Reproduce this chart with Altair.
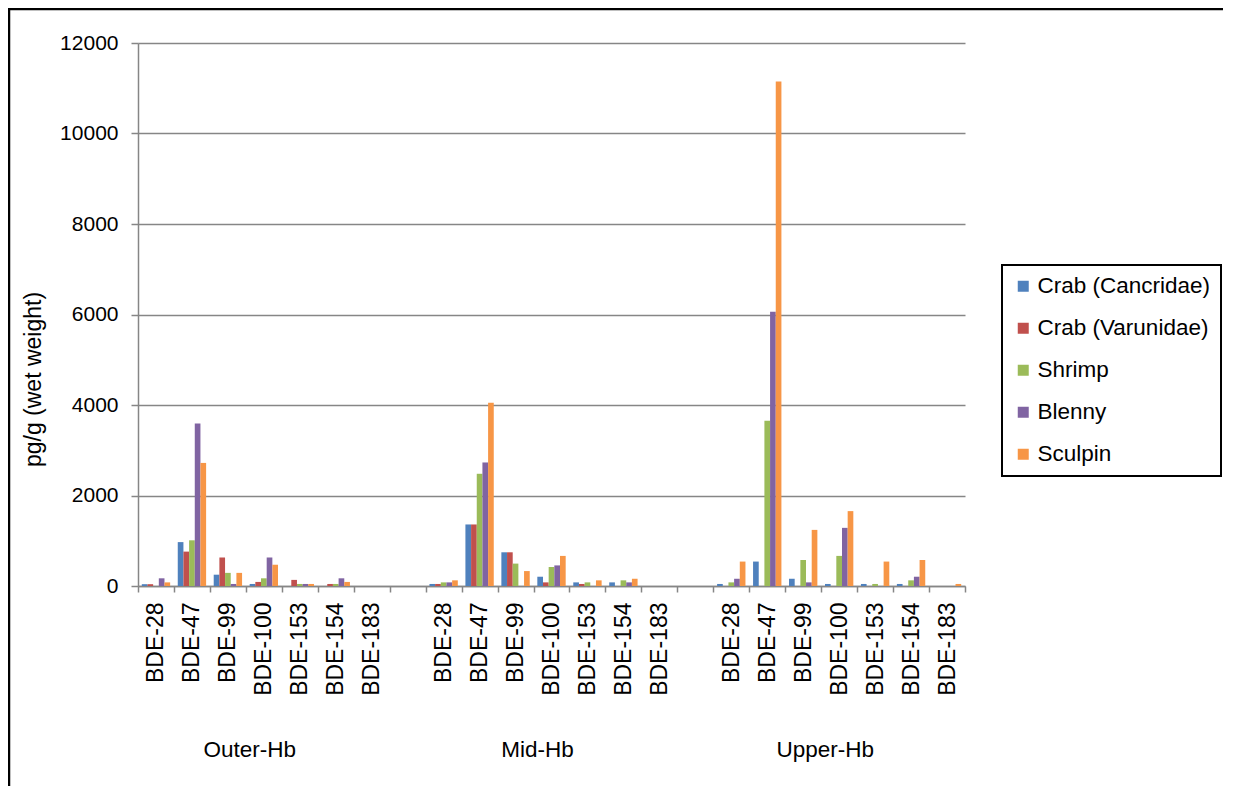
import altair as alt
import pandas as pd

groups = ["Outer-Hb", "Mid-Hb", "Upper-Hb"]
congeners = ["BDE-28", "BDE-47", "BDE-99", "BDE-100", "BDE-153", "BDE-154", "BDE-183"]
species = ["Crab (Cancridae)", "Crab (Varunidae)", "Shrimp", "Blenny", "Sculpin"]
colors = ["#4F81BD", "#C0504D", "#9BBB59", "#8064A2", "#F79646"]

# values per species: Outer-Hb (7 congeners), Mid-Hb (7), Upper-Hb (7)
crab_cancridae = [40, 970, 250, 45, 0, 0, 0,
                  45, 1360, 745, 205, 80, 80, 0,
                  45, 540, 160, 45, 45, 45, 0]
crab_varunidae = [40, 760, 630, 90, 135, 45, 0,
                  45, 1360, 745, 80, 45, 0, 0,
                  0, 0, 0, 0, 0, 0, 0]
shrimp = [0, 1010, 290, 170, 45, 45, 0,
          80, 2480, 495, 420, 80, 125, 0,
          80, 3650, 575, 665, 45, 125, 0]
blenny = [170, 3590, 45, 630, 45, 170, 0,
          80, 2730, 0, 455, 0, 80, 0,
          160, 6060, 80, 1285, 0, 205, 0]
sculpin = [80, 2720, 290, 470, 45, 90, 0,
           125, 4050, 330, 665, 125, 160, 0,
           540, 11150, 1240, 1655, 540, 575, 45]

series = [crab_cancridae, crab_varunidae, shrimp, blenny, sculpin]
y_ticks = [0, 2000, 4000, 6000, 8000, 10000, 12000]

slots = []
for gi, g in enumerate(groups):
    for c in congeners:
        slots.append(f"{g}|{c}")
    if gi < len(groups) - 1:
        slots.append(f"gap{gi}")

rows = []
for sp, vals in zip(species, series):
    k = 0
    for g in groups:
        for c in congeners:
            rows.append({"slot": f"{g}|{c}", "species": sp, "value": vals[k]})
            k += 1
df = pd.DataFrame(rows)

grp_df = pd.DataFrame({"slot": [f"{g}|BDE-100" for g in groups], "label": groups})

FONT = "Liberation Sans, Arial, sans-serif"
GRAY = "#868686"
W, H = 827, 543

x_enc = alt.X(
    "slot:N",
    scale=alt.Scale(domain=slots, paddingInner=0, paddingOuter=0),
    axis=alt.Axis(
        title=None,
        labelExpr="indexof('' + datum.value, '|') >= 0 ? split('' + datum.value, '|')[1] : ''",
        labelAngle=270,
        labelFontSize=23,
        labelColor="#000",
        labelPadding=10,
        labelOverlap=False,
        labelLimit=300,
        tickBand="extent",
        tickSize=6,
        tickColor=GRAY,
        domainColor=GRAY,
        domainWidth=1.5,
        tickWidth=1.5,
        grid=False,
    ),
)

bars = alt.Chart(df).mark_bar().encode(
    x=x_enc,
    xOffset=alt.XOffset("species:N",
                        scale=alt.Scale(domain=species, paddingInner=0, paddingOuter=0.67)),
    y=alt.Y(
        "value:Q",
        stack=False,
        scale=alt.Scale(domain=[0, 12000], nice=False),
        axis=alt.Axis(
            values=y_ticks,
            format=".0f",
            title="pg/g (wet weight)",
            titleFontSize=23,
            titleFontWeight="normal",
            titleColor="#000",
            titleAngle=270,
            titleX=-105,
            titleY=336,
            titleAlign="center",
            titleBaseline="middle",
            labelFontSize=21,
            labelColor="#000",
            labelPadding=13,
            tickSize=7,
            tickColor=GRAY,
            tickWidth=1.5,
            domainColor=GRAY,
            domainWidth=1.5,
            grid=True,
            gridColor=GRAY,
            gridWidth=1.5,
        ),
    ),
    color=alt.Color(
        "species:N",
        scale=alt.Scale(domain=species, range=colors),
        legend=alt.Legend(
            title=None,
            orient="none",
            legendX=864,
            legendY=222,
            symbolType="square",
            symbolSize=121,
            labelFontSize=22.5,
            labelColor="#000",
            labelOffset=3,
            rowPadding=19,
            padding=10,
            strokeColor="#000",
            labelLimit=400,
        ),
    ),
)

group_text = alt.Chart(grp_df).mark_text(
    fontSize=22.5, font=FONT, color="#000", baseline="alphabetic", align="center", dx=-14
).encode(
    x=alt.X("slot:N"),
    y=alt.value(714),
    text="label:N",
)

frame_top = alt.Chart(pd.DataFrame({"a": [0]})).mark_rule(color="#000", strokeWidth=2.5).encode(
    x=alt.value(-131), x2=alt.value(W + 300), y=alt.value(-34)
)
frame_left = alt.Chart(pd.DataFrame({"a": [0]})).mark_rule(color="#000", strokeWidth=2.5).encode(
    x=alt.value(-129), y=alt.value(-36), y2=alt.value(H + 260)
)

chart = alt.layer(bars, group_text, frame_top, frame_left).properties(
    width=W,
    height=H,
    autosize=alt.AutoSizeParams(type="none"),
    padding={"left": 130, "top": 35, "right": 258, "bottom": 200},
    background="#ffffff",
).configure(font=FONT).configure_view(strokeWidth=0).configure_legend(strokeWidth=2)

chart.save("out.html", embed_options={"renderer": "svg", "actions": False})
